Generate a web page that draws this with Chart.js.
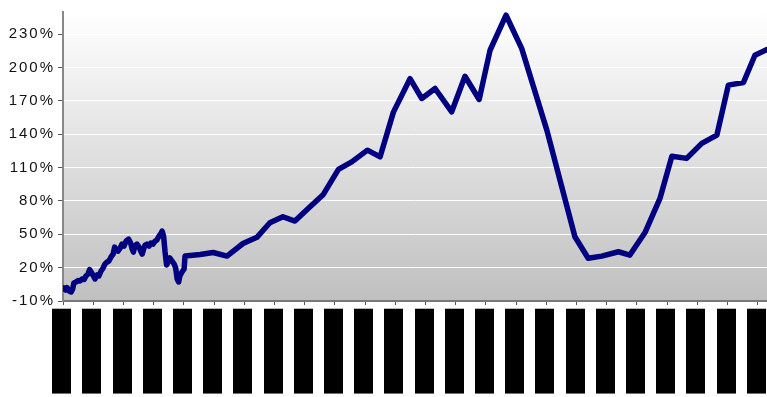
<!DOCTYPE html>
<html>
<head>
<meta charset="utf-8">
<script src="https://cdn.jsdelivr.net/npm/chart.js@4"></script>
<style>
  html, body { margin: 0; padding: 0; background: #fff; }
  #chart { display: block; }
</style>
</head>
<body>
<canvas id="chart" width="767" height="397"></canvas>
<script>
// position along the x axis (one unit per tick)
const periods = [
  0.02, 0.08, 0.13, 0.20, 0.27, 0.32, 0.36, 0.43, 0.50, 0.56,
  0.63, 0.70, 0.76, 0.83, 0.88, 0.93, 0.99, 1.06, 1.13, 1.19,
  1.26, 1.33, 1.39, 1.46, 1.52, 1.59, 1.66, 1.71, 1.76, 1.82,
  1.89, 1.95, 2.02, 2.09, 2.17, 2.24, 2.29, 2.33, 2.38, 2.45,
  2.52, 2.57, 2.62, 2.67, 2.72, 2.78, 2.85, 2.91, 2.98, 3.05,
  3.11, 3.18, 3.25, 3.28, 3.33, 3.38, 3.43, 3.48, 3.54, 3.61,
  3.68, 3.73, 3.78, 3.83, 3.87, 3.94, 4.01, 4.04,
  4.54, 4.97, 5.43, 5.96, 6.42, 6.85, 7.28, 7.68, 8.18, 8.62,
  9.12, 9.56, 10.08, 10.50, 10.94, 11.49, 11.88, 12.32, 12.87, 13.31,
  13.78, 14.14, 14.67, 15.19, 16.02, 16.95, 17.39, 17.84, 18.39, 18.77,
  19.27, 19.77, 20.16, 20.65, 21.15, 21.65, 22.03, 22.53, 22.91, 23.31
];

// cumulative return, %
const returns = [
  1.7, -0.1, 2.1, -1.0, -1.9, 0.8, 6.2, 7.1, 8.4, 8.0,
  9.8, 9.3, 12.5, 14.3, 18.3, 16.1, 13.4, 9.8, 13.4, 12.5,
  17.0, 19.7, 23.3, 25.1, 26.0, 29.6, 32.2, 38.5, 36.7, 34.9,
  37.6, 41.2, 39.4, 43.9, 45.7, 42.1, 36.7, 34.0, 39.4, 41.2,
  38.5, 34.9, 32.2, 36.7, 40.3, 41.2, 39.4, 42.1, 41.2, 43.9,
  44.8, 48.4, 51.1, 52.9, 48.4, 34.0, 22.4, 25.1, 28.7, 26.0,
  23.3, 19.7, 9.8, 7.1, 12.5, 16.1, 18.8, 30.4,
  31.8, 33.6, 30.4, 41.7, 47.3, 60.4, 65.8, 61.9, 74.8, 85.9,
  108.4, 115.2, 125.7, 119.7, 159.9, 190.0, 172.2, 181.2, 160.2, 192.2,
  171.3, 215.6, 247.1, 217.1, 143.7, 47.8, 28.4, 30.4, 34.3, 31.3,
  51.6, 82.6, 120.3, 118.3, 131.8, 139.2, 184.2, 186.6, 211.1, 216.2
];

const xTicks = [0, 1, 2, 3, 4, 5, 6, 7, 8, 9, 10, 11, 12, 13, 14, 15, 16, 17, 18, 19, 20, 21, 22, 23];
const xLabels = [
  '████████', '████████', '████████', '████████', '████████', '████████',
  '████████', '████████', '████████', '████████', '████████', '████████',
  '████████', '████████', '████████', '████████', '████████', '████████',
  '████████', '████████', '████████', '████████', '████████', '████████'
];
const yTicks = [-10, 20, 50, 80, 110, 140, 170, 200, 230];

const points = periods.map((p, i) => ({ x: p, y: returns[i] }));

// grey fade behind the plot; wide letter spacing for y labels, tight for x labels
const plotBackground = {
  id: 'plotBackground',
  beforeDraw(chart) {
    const { ctx, chartArea } = chart;
    const g = ctx.createLinearGradient(0, chartArea.top, 0, chartArea.bottom);
    g.addColorStop(0, '#ffffff');
    g.addColorStop(1, '#c0c0c0');
    ctx.save();
    ctx.fillStyle = g;
    ctx.fillRect(chartArea.left, chartArea.top, chartArea.right - chartArea.left, chartArea.bottom - chartArea.top);
    ctx.restore();
    ctx.letterSpacing = '2px';
  },
  beforeDatasetsDraw(chart) {
    chart.ctx.letterSpacing = '-2px';
  }
};

new Chart(document.getElementById('chart'), {
  type: 'line',
  data: {
    datasets: [{
      data: points,
      borderColor: '#000080',
      borderWidth: 5.5,
      pointRadius: 0,
      tension: 0,
      fill: false,
      borderJoinStyle: 'round',
      borderCapStyle: 'round'
    }]
  },
  options: {
    responsive: false,
    animation: false,
    devicePixelRatio: 1,
    layout: { padding: { top: 12, left: 0, right: 0, bottom: 0 } },
    plugins: {
      legend: { display: false },
      tooltip: { enabled: false }
    },
    scales: {
      x: {
        type: 'linear',
        min: 0,
        max: 23.31,
        afterBuildTicks(scale) { scale.ticks = xTicks.map(v => ({ value: v })); },
        afterFit(scale) { scale.height = 96; scale.paddingLeft = 0; scale.paddingRight = 0; },
        grid: { drawOnChartArea: false, tickLength: 4, tickColor: '#555', tickWidth: 1 },
        border: { color: '#777', width: 2 },
        ticks: {
          z: 1,
          autoSkip: false,
          maxRotation: 90,
          minRotation: 90,
          padding: 6,
          color: '#000',
          font: { family: 'DejaVu Sans', size: 16 },
          callback: (v, i) => xLabels[i]
        }
      },
      y: {
        min: -10,
        max: 250,
        afterBuildTicks(scale) { scale.ticks = yTicks.map(v => ({ value: v })); },
        afterFit(scale) { scale.width = 63; scale.paddingTop = 0; scale.paddingBottom = 0; },
        grid: { color: '#ffffff', lineWidth: 1, tickLength: 5, tickColor: '#555' },
        border: { color: '#888', width: 2 },
        ticks: {
          padding: 3,
          color: '#111',
          font: { family: 'Liberation Sans', size: 15 },
          callback: v => v + '%'
        }
      }
    }
  },
  plugins: [plotBackground]
});
</script>
</body>
</html>
